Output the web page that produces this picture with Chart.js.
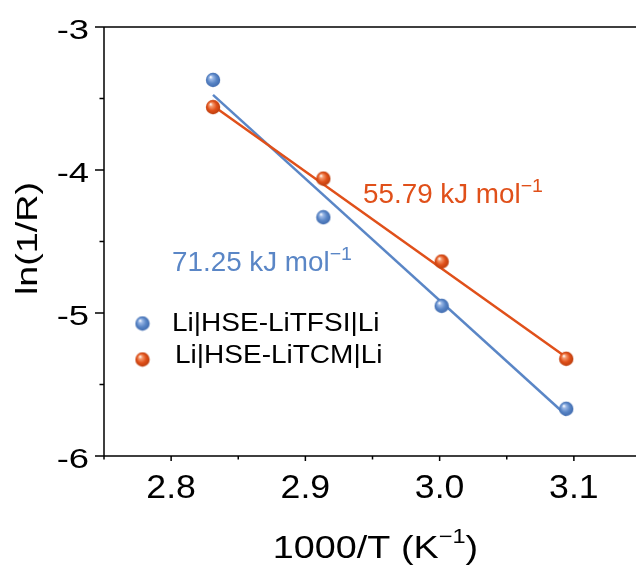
<!DOCTYPE html>
<html>
<head>
<meta charset="utf-8">
<script src="https://cdn.jsdelivr.net/npm/chart.js@4.4.0/dist/chart.umd.min.js"></script>
<style>
  html, body { margin: 0; padding: 0; background: #fff; overflow: hidden; }
  #wrap { width: 636px; height: 571px; overflow: hidden; }
</style>
</head>
<body>
<div id="wrap"><canvas id="arrhenius" width="641" height="571"></canvas></div>
<script>
// 1000/T values (K^-1) and ln(1/R) for the two symmetric cells
const invT = [2.8312, 2.9134, 3.0015, 3.0943];
const lnInvR_TFSI = [-3.37, -4.33, -4.95, -5.67];
const lnInvR_TCM = [-3.56, -4.06, -4.64, -5.32];

// end points of the Arrhenius fits
const fitX = [2.8312, 3.0943];
const fitTFSI = [-3.475, -5.715];
const fitTCM = [-3.55, -5.31];

const xTicks = [2.8, 2.9, 3.0, 3.1];
const xMinorTicks = [2.75, 2.85, 2.95, 3.05, 3.15];
const yTicks = [-3, -4, -5, -6];
const yMinorTicks = [-3.5, -4.5, -5.5];

const seriesNames = ['Li|HSE-LiTFSI|Li', 'Li|HSE-LiTCM|Li'];
const energyLabels = ['71.25 kJ mol', '55.79 kJ mol'];

const BLUE = '#5a86c6';
const ORANGE = '#e0501a';
const FONT = '"Liberation Sans", Arial, sans-serif';

const pts = (xs, ys) => xs.map((v, i) => ({ x: v, y: ys[i] }));

// shaded ball used as the point marker
function sphere(light, base, dark) {
    const c = document.createElement('canvas');
    c.width = c.height = 16;
    const g = c.getContext('2d');
    const grad = g.createRadialGradient(5.5, 5, 0.3, 8, 8, 7.5);
    grad.addColorStop(0, '#ffffff');
    grad.addColorStop(0.22, light);
    grad.addColorStop(0.6, base);
    grad.addColorStop(1, dark);
    g.fillStyle = grad;
    g.beginPath();
    g.arc(8, 8, 7.2, 0, Math.PI * 2);
    g.fill();
    return c;
}
const ballBlue = sphere('#9bb8e6', '#5a86c6', '#3e69ad');
const ballOrange = sphere('#f49a6e', '#e0501a', '#b83c0c');

// draws a run of text pieces (main text + superscripts), stretched horizontally by sx
function drawRun(ctx, parts, x, y, opts) {
    const { sx = 1, align = 'left', color = '#000', rotate = 0 } = opts || {};
    ctx.save();
    ctx.fillStyle = color;
    ctx.textBaseline = 'alphabetic';
    ctx.textAlign = 'left';
    let w = 0;
    parts.forEach(p => {
        ctx.font = p.size + 'px ' + FONT;
        p.w = ctx.measureText(p.t).width;
        w += p.w;
    });
    let x0 = align === 'center' ? -w / 2 : align === 'right' ? -w : 0;
    ctx.translate(x, y);
    if (rotate) ctx.rotate(rotate);
    ctx.scale(sx, 1);
    parts.forEach(p => {
        ctx.font = p.size + 'px ' + FONT;
        ctx.fillText(p.t, x0, -(p.rise || 0));
        x0 += p.w;
    });
    ctx.restore();
}

const frame = {
    id: 'frame',
    afterDraw(chart) {
        const { ctx, chartArea: a, scales: { x, y } } = chart;
        ctx.save();
        ctx.strokeStyle = '#000';
        ctx.lineWidth = 1.5;
        ctx.beginPath();
        ctx.moveTo(a.right, a.top);
        ctx.lineTo(a.left, a.top);
        ctx.lineTo(a.left, a.bottom);
        ctx.lineTo(a.right, a.bottom);
        yTicks.forEach(v => { const p = y.getPixelForValue(v); ctx.moveTo(a.left - 9, p); ctx.lineTo(a.left, p); });
        yMinorTicks.forEach(v => { const p = y.getPixelForValue(v); ctx.moveTo(a.left - 4.5, p); ctx.lineTo(a.left, p); });
        xTicks.forEach(v => { const p = x.getPixelForValue(v); ctx.moveTo(p, a.bottom); ctx.lineTo(p, a.bottom + 5); });
        xMinorTicks.forEach(v => { const p = x.getPixelForValue(v); ctx.moveTo(p, a.bottom); ctx.lineTo(p, a.bottom + 3.5); });
        ctx.stroke();
        ctx.restore();

        // tick labels
        yTicks.forEach(v => {
            drawRun(ctx, [{ t: String(v), size: 28 }], a.left - 15, y.getPixelForValue(v) + 12, { sx: 1.3, align: 'right' });
        });
        xTicks.forEach(v => {
            drawRun(ctx, [{ t: v.toFixed(1), size: 33 }], x.getPixelForValue(v), a.bottom + 41.5, { sx: 1.08, align: 'center' });
        });

        // axis titles
        drawRun(ctx, [
            { t: '1000/T (K', size: 32 },
            { t: '\u22121', size: 20, rise: 15 },
            { t: ')', size: 32 }
        ], 375.5, 558, { sx: 1.18, align: 'center' });
        drawRun(ctx, [{ t: 'ln(1/R)', size: 29 }], 37, 238.5, { sx: 1.3, align: 'center', rotate: -Math.PI / 2 });

        // activation energy labels
        drawRun(ctx, [{ t: energyLabels[0], size: 27 }, { t: '\u22121', size: 19, rise: 11 }], 172, 271, { sx: 1.03, color: BLUE });
        drawRun(ctx, [{ t: energyLabels[1], size: 27 }, { t: '\u22121', size: 19, rise: 11 }], 363, 203, { sx: 1.03, color: ORANGE });

        // legend
        ctx.drawImage(ballBlue, 142.5 - 8, 323.5 - 8);
        ctx.drawImage(ballOrange, 142.5 - 8, 359.5 - 8);
        drawRun(ctx, [{ t: seriesNames[0], size: 25 }], 172, 331, { sx: 1.12 });
        drawRun(ctx, [{ t: seriesNames[1], size: 25 }], 175, 363, { sx: 1.12 });
    }
};

new Chart(document.getElementById('arrhenius'), {
    type: 'scatter',
    data: {
        datasets: [
            { label: seriesNames[0], data: pts(invT, lnInvR_TFSI), pointStyle: ballBlue, pointRadius: 7, order: 0 },
            { label: seriesNames[1], data: pts(invT, lnInvR_TCM), pointStyle: ballOrange, pointRadius: 7, order: 0 },
            { label: 'fit TFSI', data: pts(fitX, fitTFSI), showLine: true, borderColor: BLUE, borderWidth: 2.5, pointRadius: 0, order: 2 },
            { label: 'fit TCM', data: pts(fitX, fitTCM), showLine: true, borderColor: ORANGE, borderWidth: 2.5, pointRadius: 0, order: 1 }
        ]
    },
    options: {
        responsive: false,
        animation: false,
        events: [],
        layout: { autoPadding: false, padding: { left: 104, top: 27, right: 0, bottom: 115 } },
        scales: {
            x: { type: 'linear', min: 2.75, max: 3.15, display: false },
            y: { type: 'linear', min: -6, max: -3, display: false }
        },
        plugins: { legend: { display: false }, tooltip: { enabled: false } }
    },
    plugins: [frame]
});
</script>
</body>
</html>
